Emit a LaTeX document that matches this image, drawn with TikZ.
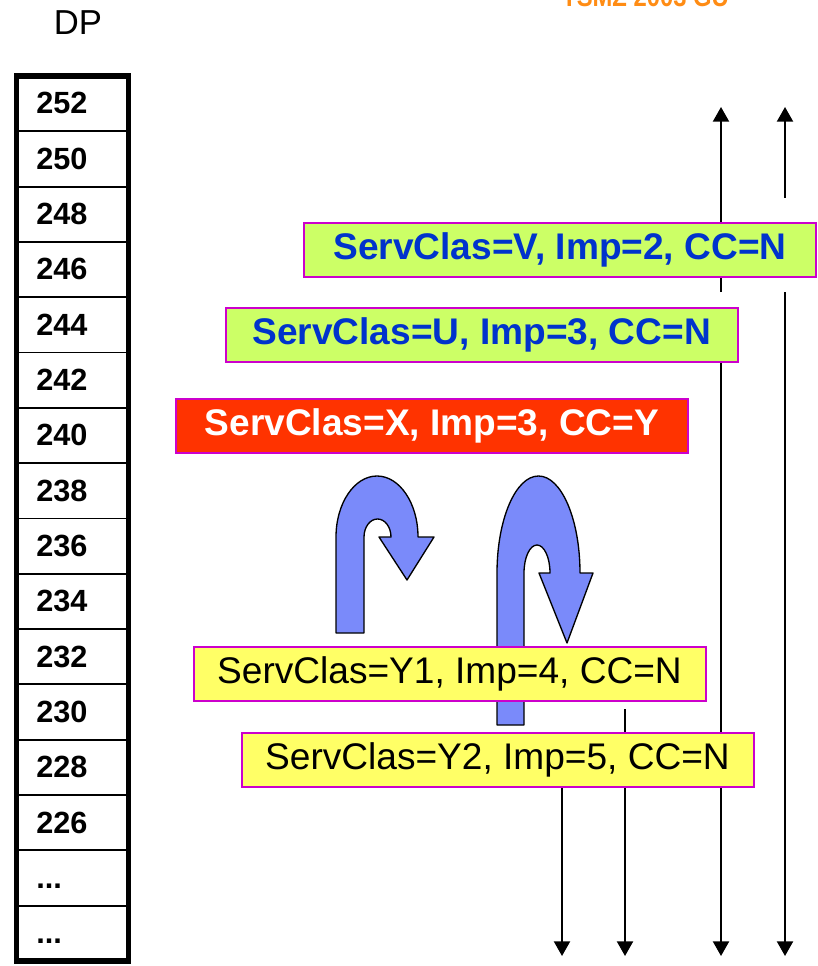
\documentclass[tikz,border=0pt]{standalone}
\usepackage{fontspec}
\setmainfont{Liberation Sans}
\usetikzlibrary{arrows.meta,positioning}

\definecolor{limebox}{RGB}{204,255,102}
\definecolor{redbox}{RGB}{255,51,0}
\definecolor{yellowbox}{RGB}{255,255,102}
\definecolor{boxedge}{RGB}{204,0,204}
\definecolor{classblue}{RGB}{0,51,204}
\definecolor{turnblue}{RGB}{122,138,250}
\definecolor{footorange}{RGB}{255,140,20}

\newcommand{\rowdots}{...}

\begin{document}
\begin{tikzpicture}[x=0.75pt,y=-0.75pt,
  classbox/.style={draw=boxedge,line width=1.5pt,minimum width=384pt,minimum height=40.5pt,
    inner sep=0pt,font=\fontsize{27.8}{33}\selectfont},
  boldbox/.style={classbox,font=\fontsize{27.8}{33}\selectfont\bfseries},
  flow/.style={line width=1.6pt,-{Triangle[length=11pt,width=12pt]}},
  turn/.style={fill=turnblue,draw=black,line width=1pt,line join=round}]
  \useasboundingbox (0,0) rectangle (817,966);

  % footer, cut at the top edge
  \begin{scope}
    \clip (0,0) rectangle (817,966);
    \node[anchor=base west,inner sep=0pt,text=footorange,xscale=0.85,
      font=\fontsize{21}{25}\selectfont\bfseries] (footer) at (562,7) {TSMZ 2003 GU};
  \end{scope}

  % DP column
  \node[anchor=base,inner sep=0pt,font=\fontsize{26}{30}\selectfont] (dp) at (78,35) {DP};
  \foreach \i in {1,...,15}{
    \draw[line width=1.4pt] (16.5,{76+55.31*\i}) -- (128.5,{76+55.31*\i});
  }
  \draw[line width=3.8pt] (16.5,76) rectangle (128.5,961);
  \foreach \lbl [count=\i from 0] in {252,250,...,226,\rowdots,\rowdots}{
    \node[anchor=base west,inner sep=0pt,font=\fontsize{23}{27}\selectfont\bfseries]
      (row\i) at (36,{76+55.31*\i+38}) {\lbl};
  }

  % lane ends
  \coordinate (aStart) at (562,786);
  \coordinate (aEnd) at (562,956);
  \coordinate (bStart) at (625,709);
  \coordinate (bEnd) at (625,956);
  \coordinate (cUpStart) at (721,292);
  \coordinate (cUpEnd) at (721,107);
  \coordinate (cStart) at (721,362);
  \coordinate (cEnd) at (721,956);
  \coordinate (dUpStart) at (785,198);
  \coordinate (dUpEnd) at (785,107);
  \coordinate (dStart) at (785,292);
  \coordinate (dEnd) at (785,956);

  % lanes
  \draw[flow] (cUpStart) -- (cUpEnd);
  \draw[flow] (dUpStart) -- (dUpEnd);
  \draw[flow] (dStart) -- (dEnd);
  \draw[flow] (cStart) -- (cEnd);
  \draw[flow] (bStart) -- (bEnd);
  \draw[flow] (aStart) -- (aEnd);

  % small u-turn
  \draw[turn] (336,633) -- (336,537)
    .. controls (336,503.3) and (354.4,476) .. (377,476)
    .. controls (399.6,476) and (418,503.3) .. (418,537)
    -- (434,537) -- (407,580) -- (379,537) -- (391,537)
    .. controls (391,527.1) and (385,519) .. (377.5,519)
    .. controls (370,519) and (364,527.1) .. (364,537)
    -- (364,633) -- cycle;
  % tall u-turn
  \draw[turn] (497,725) -- (497,573)
    .. controls (497,519.4) and (515.6,476) .. (538.5,476)
    .. controls (561.4,476) and (580,519.4) .. (580,573)
    -- (593,573) -- (567,643) -- (539,573) -- (550,573)
    .. controls (550,557.5) and (544.2,545) .. (537,545)
    .. controls (529.8,545) and (524,557.5) .. (524,573)
    -- (524,725) -- cycle;

  % service classes
  \node[boldbox,fill=limebox,text=classblue] (v) at (560,250) {ServClas=V, Imp=2, CC=N};
  \node[boldbox,fill=limebox,text=classblue] (u) at (481.7,334.5) {ServClas=U, Imp=3, CC=N};
  \node[boldbox,fill=redbox,text=white] (x) at (432,426) {ServClas=X, Imp=3, CC=Y};
  \node[classbox,fill=yellowbox] (y1) at (449.5,674) {ServClas=Y1, Imp=4, CC=N};
  \node[classbox,fill=yellowbox] (y2) at (497.5,759.5) {ServClas=Y2, Imp=5, CC=N};
\end{tikzpicture}
\end{document}
